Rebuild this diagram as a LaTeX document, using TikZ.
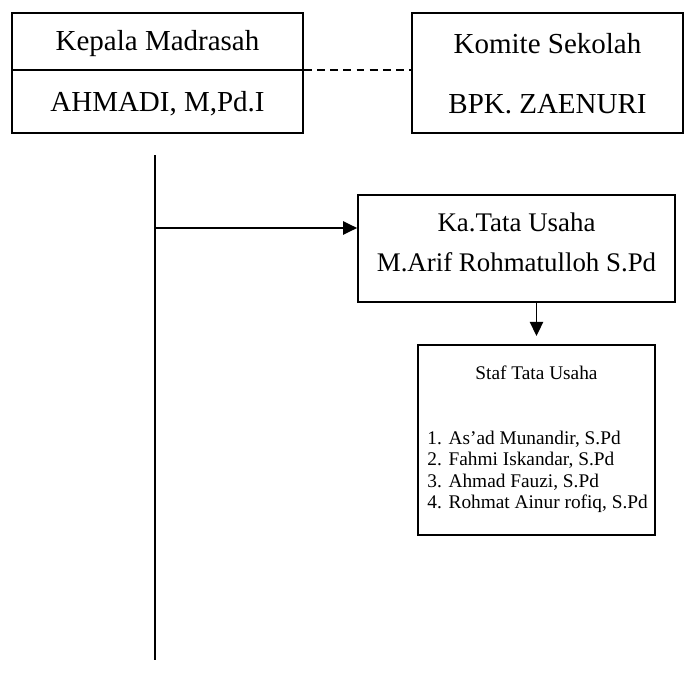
\documentclass[tikz,border=0pt]{standalone}
\usepackage{fontspec}
\setmainfont{Liberation Serif}
\usetikzlibrary{arrows.meta,positioning}

\begin{document}
\begin{tikzpicture}[x=0.02cm, y=-0.02cm,
  box/.style={draw, rectangle, line width=1pt, inner sep=0pt},
  judul/.style={font=\fontsize{16.5}{19}\selectfont},
  sedang/.style={font=\fontsize{15.3}{18}\selectfont},
  kecil/.style={font=\fontsize{11}{12.2}\selectfont},
  arr/.style={-{Triangle[length=8pt, width=7.5pt]}, line width=1pt}
]
  \useasboundingbox (0,0) rectangle (692,686);

  % baris atas
  \node[box, minimum width=5.82cm, minimum height=2.4cm] (kepala) at (157.5,73) {};
  \node[box, minimum width=5.42cm, minimum height=2.4cm] (komite) at (547.5,73) {};
  \coordinate (kdiv) at (0,70);
  \draw[line width=1pt] (kepala.west |- kdiv) -- (kepala.east |- kdiv);
  \draw[line width=1pt, dash pattern=on 4.5pt off 3pt] (kepala.east |- kdiv) -- (komite.west |- kdiv);
  \node[judul] (kepalajudul) at (157.5,44) {Kepala Madrasah};
  \node[judul] (kepalanama) at (157.5,104) {AHMADI, M,Pd.I};
  \node[judul] (komitejudul) at (547.5,44) {Komite Sekolah};
  \node[judul] (komitenama) at (547.5,104) {BPK. ZAENURI};

  % garis komando
  \coordinate (garisatas) at (155,155);
  \coordinate (garisbawah) at (155,660);
  \coordinate (cabang) at (155,228);
  \draw[line width=1pt] (garisatas) -- (garisbawah);

  % tata usaha
  \node[box, minimum width=6.34cm, minimum height=2.14cm] (katu) at (516.5,248.5) {};
  \node[sedang] (katujudul) at (516.5,222) {Ka.Tata Usaha};
  \node[sedang] (katunama) at (516.5,262) {M.Arif Rohmatulloh S.Pd};
  \draw[arr] (cabang) -- (cabang -| katu.west);

  \node[box, minimum width=4.74cm, minimum height=3.8cm] (staf) at (536.5,440) {};
  \coordinate (ujung) at (536.5,336);
  \draw[arr] (katu.south -| staf.north) -- (ujung);
  \node[kecil] (stafjudul) at (536.5,373) {Staf Tata Usaha};
  \node[kecil, anchor=west, inner sep=0pt] (stafdaftar) at (427,472) {%
    \begin{tabular}{@{}l@{\hspace{0.35em}}l@{}}
      1. & As’ad Munandir, S.Pd\\
      2. & Fahmi Iskandar, S.Pd\\
      3. & Ahmad Fauzi, S.Pd\\
      4. & Rohmat Ainur rofiq, S.Pd
    \end{tabular}};
\end{tikzpicture}
\end{document}
